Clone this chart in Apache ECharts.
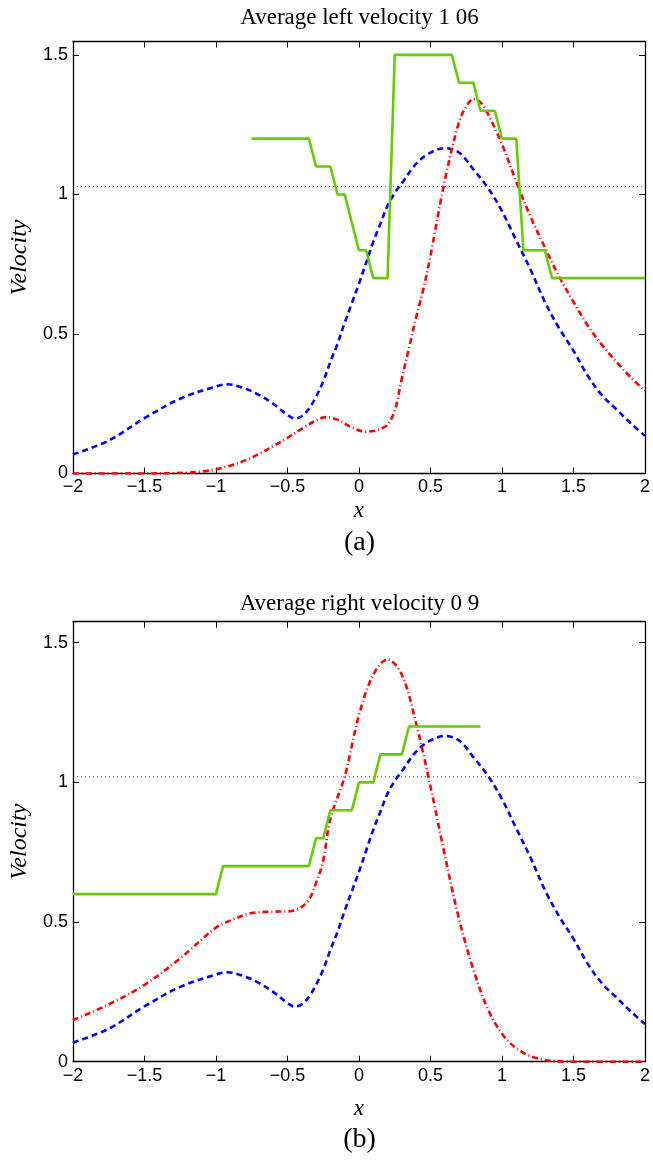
<!DOCTYPE html>
<html>
<head>
<meta charset="utf-8">
<script src="https://cdn.jsdelivr.net/npm/echarts@6/dist/echarts.min.js"></script>
<style>
html,body{margin:0;padding:0;background:#fff;}
#c{width:653px;height:1161px;}
</style>
</head>
<body>
<div id="c"></div>
<script>
// ---------- data ----------
var titleTop = 'Average left velocity 1 06';
var titleBottom = 'Average right velocity 0 9';
var xTicks = [-2, -1.5, -1, -0.5, 0, 0.5, 1, 1.5, 2];
var yTicks = [0, 0.5, 1, 1.5];

// blue dashed curve (same in both panels)
var blueX = [-2, -1.75, -1.5, -1.25, -1.0, -0.92, -0.8, -0.7, -0.6, -0.5, -0.45, -0.4, -0.35, -0.3, -0.25, -0.2, -0.15, -0.1, -0.05, 0.0, 0.05, 0.1, 0.15, 0.2, 0.25, 0.3, 0.4, 0.5, 0.6, 0.7, 0.8, 0.9, 1.0, 1.1, 1.2, 1.3, 1.4, 1.5, 1.6, 1.7, 1.8, 1.9, 2.0];
var blueY = [0.068, 0.118, 0.198, 0.268, 0.312, 0.32, 0.305, 0.282, 0.25, 0.21, 0.197, 0.205, 0.232, 0.275, 0.33, 0.4, 0.465, 0.54, 0.61, 0.68, 0.755, 0.83, 0.895, 0.96, 1.005, 1.04, 1.11, 1.15, 1.166, 1.15, 1.09, 1.025, 0.94, 0.835, 0.73, 0.615, 0.52, 0.44, 0.35, 0.28, 0.23, 0.18, 0.135];

// red dash-dot curve, panel (a)
var redAX = [-2, -1.5, -1.2, -1.1, -1.0, -0.9, -0.8, -0.7, -0.6, -0.5, -0.4, -0.3, -0.23, -0.15, -0.05, 0.05, 0.1, 0.15, 0.2, 0.25, 0.3, 0.35, 0.4, 0.45, 0.5, 0.6, 0.7, 0.75, 0.8, 0.85, 0.9, 1.0, 1.1, 1.2, 1.3, 1.4, 1.5, 1.6, 1.7, 1.8, 1.9, 2.0];
var redAY = [0, 0, 0.003, 0.007, 0.015, 0.028, 0.046, 0.07, 0.098, 0.128, 0.16, 0.19, 0.202, 0.193, 0.165, 0.15, 0.152, 0.16, 0.175, 0.225, 0.34, 0.45, 0.56, 0.66, 0.78, 1.05, 1.26, 1.315, 1.342, 1.33, 1.29, 1.18, 1.045, 0.92, 0.81, 0.705, 0.615, 0.53, 0.46, 0.4, 0.345, 0.296];

// green solid step curve, panel (a)
var greenAX = [-0.75, -0.35, -0.3, -0.2, -0.15, -0.1, 0.0, 0.05, 0.1, 0.2, 0.25, 0.65, 0.7, 0.8, 0.85, 0.95, 1.0, 1.1, 1.15, 1.3, 1.35, 2.0];
var greenAY = [1.2, 1.2, 1.1, 1.1, 1.0, 1.0, 0.8, 0.8, 0.7, 0.7, 1.5, 1.5, 1.4, 1.4, 1.3, 1.3, 1.2, 1.2, 0.8, 0.8, 0.7, 0.7];

// dotted average line, panel (a)
var avgAX = [-2, 2];
var avgAY = [1.028, 1.028];

// red dash-dot curve, panel (b)
var redBX = [-2, -1.75, -1.5, -1.25, -1.0, -0.9, -0.75, -0.6, -0.5, -0.42, -0.35, -0.3, -0.25, -0.2, -0.1, 0.0, 0.1, 0.2, 0.3, 0.4, 0.5, 0.6, 0.7, 0.8, 0.9, 1.0, 1.1, 1.2, 1.3, 1.4, 1.5, 2.0];
var redBY = [0.149, 0.205, 0.275, 0.37, 0.48, 0.505, 0.532, 0.537, 0.538, 0.548, 0.58, 0.64, 0.72, 0.87, 1.02, 1.24, 1.385, 1.44, 1.385, 1.21, 0.985, 0.74, 0.51, 0.33, 0.19, 0.1, 0.048, 0.02, 0.006, 0.001, 0, 0];

// green solid step curve, panel (b)
var greenBX = [-2, -1.0, -0.95, -0.35, -0.3, -0.25, -0.2, -0.05, 0.0, 0.1, 0.15, 0.3, 0.35, 0.85];
var greenBY = [0.6, 0.6, 0.7, 0.7, 0.8, 0.8, 0.9, 0.9, 1.0, 1.0, 1.1, 1.1, 1.2, 1.2];

// dotted average line, panel (b)
var avgBX = [-2, 1.92];
var avgBY = [1.02, 1.02];

// ---------- helpers ----------
function pairs(xs, ys) { return xs.map(function (x, i) { return [x, ys[i]]; }); }
function fmtNum(v) {
  var s = String(Math.round(v * 100) / 100);
  return s.replace('-', '\u2212');
}
var AX = '#000';
var tickFont = { fontFamily: 'Liberation Sans, Arial, sans-serif', fontSize: 18, color: '#000' };

function xAxes(gi) {
  return [{
    type: 'value', gridIndex: gi, min: -2, max: 2, interval: 0.5, position: 'bottom',
    axisLine: { show: true, onZero: false, lineStyle: { color: AX, width: 1.3 } },
    axisTick: { show: true, inside: true, length: 6, lineStyle: { color: AX, width: 1 } },
    axisLabel: Object.assign({ margin: 5, formatter: function (v) { return xTicks.indexOf(v) >= 0 ? fmtNum(v) : ''; } }, tickFont),
    splitLine: { show: false },
    name: 'x', nameLocation: 'middle', nameGap: gi === 0 ? 26 : 36,
    nameTextStyle: { fontFamily: 'Liberation Serif, serif', fontStyle: 'italic', fontSize: 23, color: '#000' }
  }, {
    type: 'value', gridIndex: gi, min: -2, max: 2, interval: 0.5, position: 'top',
    axisLine: { show: true, onZero: false, lineStyle: { color: AX, width: 1.3 } },
    axisTick: { show: true, inside: true, length: 6, lineStyle: { color: AX, width: 1 } },
    axisLabel: { show: false }, splitLine: { show: false }
  }];
}
function yAxes(gi, ymax) {
  return [{
    type: 'value', gridIndex: gi, min: 0, max: ymax, interval: 0.5, position: 'left',
    axisLine: { show: true, onZero: false, lineStyle: { color: AX, width: 1.3 } },
    axisTick: { show: true, inside: true, length: 6, lineStyle: { color: AX, width: 1 } },
    axisLabel: Object.assign({ margin: 5, showMaxLabel: false, formatter: function (v) { return yTicks.indexOf(v) >= 0 ? fmtNum(v) : ''; } }, tickFont),
    splitLine: { show: false },
    name: 'Velocity', nameLocation: 'middle', nameGap: 37,
    nameTextStyle: { fontFamily: 'Liberation Serif, serif', fontStyle: 'italic', fontSize: 24, color: '#000' }
  }, {
    type: 'value', gridIndex: gi, min: 0, max: ymax, interval: 0.5, position: 'right',
    axisLine: { show: true, onZero: false, lineStyle: { color: AX, width: 1.3 } },
    axisTick: { show: true, inside: true, length: 6, lineStyle: { color: AX, width: 1 } },
    axisLabel: { show: false }, splitLine: { show: false }
  }];
}

var blueStyle = { color: '#0000ff', width: 2.6, type: [6, 4] };
var redStyle = { color: '#ff0000', width: 2.6, type: [6, 3, 1, 3] };
var greenStyle = { color: '#66cc00', width: 2.6, type: 'solid' };
var dotStyle = { color: '#444', width: 1, type: [1, 3] };

function line(xi, yi, data, style, smooth) {
  return {
    type: 'line', xAxisIndex: xi, yAxisIndex: yi, data: data, showSymbol: false, symbol: 'none',
    smooth: smooth ? 0.35 : false, lineStyle: style, silent: true, animation: false, clip: true
  };
}

var chart = echarts.init(document.getElementById('c'), null, { renderer: 'canvas' });
chart.setOption({
  backgroundColor: '#fff',
  animation: false,
  grid: [
    { left: 72, top: 41.5, width: 574.7, height: 432 },
    { left: 72, top: 621.7, width: 574.7, height: 440 }
  ],
  xAxis: xAxes(0).concat(xAxes(1)),
  yAxis: yAxes(0, 1.548).concat(yAxes(1, 1.575)),
  series: [
    line(0, 0, pairs(avgAX, avgAY), dotStyle, false),
    line(0, 0, pairs(blueX, blueY), blueStyle, true),
    line(0, 0, pairs(redAX, redAY), redStyle, true),
    line(0, 0, pairs(greenAX, greenAY), greenStyle, false),
    line(2, 2, pairs(avgBX, avgBY), dotStyle, false),
    line(2, 2, pairs(blueX, blueY), blueStyle, true),
    line(2, 2, pairs(redBX, redBY), redStyle, true),
    line(2, 2, pairs(greenBX, greenBY), greenStyle, false)
  ],
  graphic: [
    { type: 'text', style: { x: 359.5, y: 18, text: titleTop, font: '23px "Liberation Serif", serif', fill: '#000', align: 'center', verticalAlign: 'middle' } },
    { type: 'text', style: { x: 359.5, y: 604, text: titleBottom, font: '23px "Liberation Serif", serif', fill: '#000', align: 'center', verticalAlign: 'middle' } },
    { type: 'text', style: { x: 359.5, y: 543, text: '(a)', font: '28px "Liberation Serif", serif', fill: '#000', align: 'center', verticalAlign: 'middle' } },
    { type: 'text', style: { x: 359.5, y: 1140, text: '(b)', font: '28px "Liberation Serif", serif', fill: '#000', align: 'center', verticalAlign: 'middle' } }
  ]
});
</script>
</body>
</html>
